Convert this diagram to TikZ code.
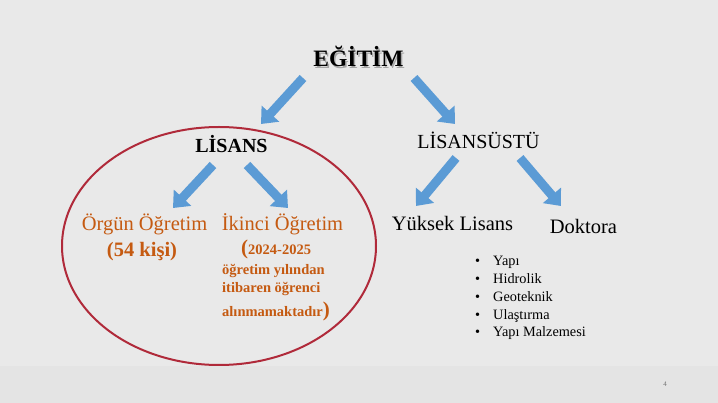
\documentclass[tikz,border=0pt]{standalone}
\usepackage{fontspec}
\setmainfont{Liberation Serif}
\usetikzlibrary{arrows.meta}
\definecolor{slidegray}{HTML}{E9E9E9}
\definecolor{bandgray}{HTML}{E4E4E4}
\definecolor{arrowblue}{HTML}{5B9BD5}
\definecolor{textorange}{HTML}{C55A11}
\definecolor{ringred}{HTML}{B02A3A}

\begin{document}
\begin{tikzpicture}[x=1pt, y=-1pt,
  blockarrow/.style={draw=arrowblue, line width=9pt, -{Triangle[width=23pt,length=14pt]}},
  bigtext/.style={font=\fontsize{20.5}{24}\selectfont, anchor=base, inner sep=0pt},
  smallbold/.style={text=textorange, font=\bfseries\fontsize{14.5}{17}\selectfont, anchor=base west, inner sep=0pt},
  listtext/.style={font=\fontsize{14.3}{17}\selectfont, anchor=base west, inner sep=0pt}]
  % Slide background
  \fill[slidegray] (0,0) rectangle (718,403);
  \fill[bandgray] (0,366) rectangle (718,403);
  \useasboundingbox (0,0) rectangle (718,403);
  % Top level
  \node[bigtext, text=black!35, font=\bfseries\fontsize{23.5}{28}\selectfont] (egitimshadow) at (360,68.5) {EĞİTİM};
  \node[bigtext, font=\bfseries\fontsize{23.5}{28}\selectfont] (egitim) at (358.5,67) {EĞİTİM};
  % Second level
  \node[bigtext, font=\bfseries\fontsize{20}{24}\selectfont] (lisans) at (231.5,153) {LİSANS};
  \node[bigtext, font=\fontsize{20}{24}\selectfont] (lisansustu) at (478.5,149) {LİSANSÜSTÜ};
  % Ring round the undergraduate branch
  \draw[ringred, line width=2pt] (219,246) ellipse [x radius=157, y radius=119];
  % Undergraduate programmes
  \node[bigtext, text=textorange] (orgun) at (144.5,231) {Örgün Öğretim};
  \node[bigtext, text=textorange, font=\bfseries\fontsize{20.5}{24}\selectfont] (kisi) at (142,257) {(54 kişi)};
  \node[bigtext, text=textorange] (ikinci) at (282.5,231) {İkinci Öğretim};
  \node[smallbold] (ikinciA) at (241,255) {{\fontsize{21}{21}\selectfont(}2024-2025};
  \node[smallbold] (ikinciB) at (222,275) {öğretim yılından};
  \node[smallbold] (ikinciC) at (222,293) {itibaren öğrenci};
  \node[smallbold] (ikinciD) at (222,317) {alınmamaktadır{\fontsize{21}{21}\selectfont)}};
  % Graduate programmes
  \node[bigtext] (yuksek) at (452.5,231) {Yüksek Lisans};
  \node[bigtext] (doktora) at (583.5,234) {Doktora};
  \foreach \dal [count=\i] in {Yapı, Hidrolik, Geoteknik, Ulaştırma, Yapı Malzemesi} {
    \node[listtext] (madde\i) at (475,266+17.7*\i-17.7) {•};
    \node[listtext] (dal\i) at (493,266+17.7*\i-17.7) {\dal};
  }
  % Arrow ends
  \coordinate (egitimL) at (303,78);  \coordinate (lisansT) at (261,124);
  \coordinate (egitimR) at (414,78);  \coordinate (ustuT) at (455,124);
  \coordinate (lisansL) at (213,165); \coordinate (orgunT) at (173,208);
  \coordinate (lisansR) at (247,165); \coordinate (ikinciT) at (288,208);
  \coordinate (ustuL) at (456,158);   \coordinate (yuksekT) at (416,206);
  \coordinate (ustuR) at (520,158);   \coordinate (doktoraT) at (561,206);
  % Block arrows
  \draw[blockarrow] (egitimL) -- (lisansT);
  \draw[blockarrow] (egitimR) -- (ustuT);
  \draw[blockarrow] (lisansL) -- (orgunT);
  \draw[blockarrow] (lisansR) -- (ikinciT);
  \draw[blockarrow] (ustuL) -- (yuksekT);
  \draw[blockarrow] (ustuR) -- (doktoraT);
  % Page number
  \node[text=black!55, font=\fontsize{7}{8}\selectfont] (sayfa) at (665,384) {4};
\end{tikzpicture}
\end{document}
